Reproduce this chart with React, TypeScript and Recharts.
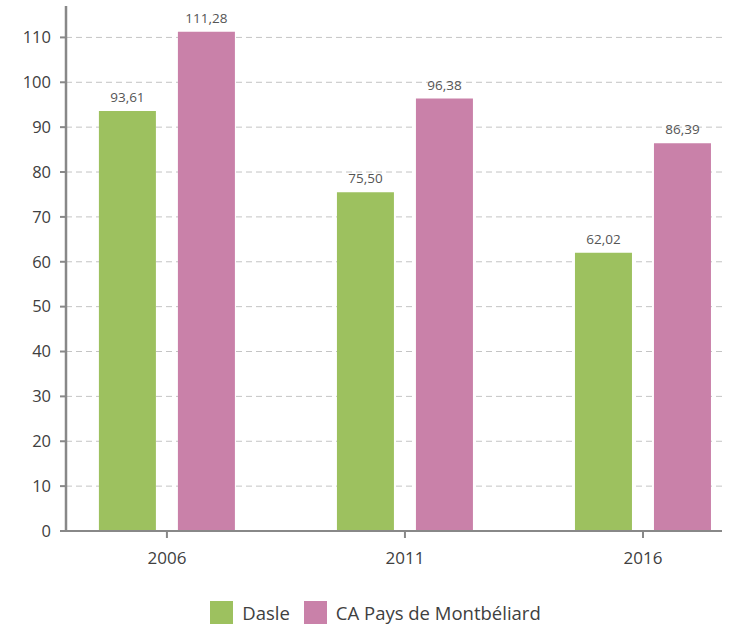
import { BarChart, Bar, XAxis, YAxis, CartesianGrid, Legend, LabelList } from "recharts";

const years = [2006, 2011, 2016];
const dasle = [93.61, 75.5, 62.02];
const montbeliard = [111.28, 96.38, 86.39];
const yTicks = [0, 10, 20, 30, 40, 50, 60, 70, 80, 90, 100, 110];

const SERIES = [
  { key: "dasle", name: "Dasle", color: "#9DC15F" },
  { key: "ca", name: "CA Pays de Montbéliard", color: "#C981A9" },
];

const data = years.map((y, i) => ({ year: y, dasle: dasle[i], ca: montbeliard[i] }));

const FONT = "'Open Sans', 'Noto Sans', sans-serif";
const fmt = (v: any) => Number(v).toFixed(2).replace(".", ",");

function LegendBox() {
  return (
    <div
      style={{
        display: "flex",
        justifyContent: "center",
        alignItems: "flex-end",
        height: 30,
        gap: 14,
        paddingLeft: 29,
      }}
    >
      {SERIES.map((s) => (
        <div key={s.key} style={{ display: "flex", alignItems: "center" }}>
          <span style={{ width: 23, height: 23, background: s.color, display: "inline-block", marginRight: 9 }} />
          <span style={{ fontSize: 18.5, color: "#404040", fontFamily: FONT, lineHeight: "23px" }}>{s.name}</span>
        </div>
      ))}
    </div>
  );
}

export default function App() {
  return (
    <div style={{ position: "absolute", left: 0, top: 0, background: "#fff" }}>
      <BarChart
        width={729}
        height={624}
        data={data}
        margin={{ top: 6, right: 7, left: 0, bottom: 0 }}
        barGap={22}
        style={{ fontFamily: FONT }}
      >
        <CartesianGrid stroke="#C4C4C4" strokeDasharray="6 4" vertical={false} horizontalValues={yTicks.slice(1)} />
        <XAxis
          type="number"
          dataKey="year"
          domain={[2003.88, 2017.66]}
          ticks={years}
          allowDataOverflow
          height={63}
          axisLine={{ stroke: "#888", strokeWidth: 2 }}
          tickLine={{ stroke: "#888", strokeWidth: 2 }}
          tickSize={7}
          tick={{ fontSize: 17, fill: "#404040" }}
          tickMargin={14}
        />
        <YAxis
          domain={[0, 117]}
          ticks={yTicks}
          allowDataOverflow
          width={66}
          axisLine={{ stroke: "#888", strokeWidth: 2.5 }}
          tickLine={{ stroke: "#888", strokeWidth: 2 }}
          tickSize={6}
          tick={{ fontSize: 16.5, fill: "#404040" }}
          tickMargin={9}
        />
        <Legend verticalAlign="bottom" height={30} content={() => <LegendBox />} />
        {SERIES.map((s) => (
          <Bar key={s.key} dataKey={s.key} name={s.name} fill={s.color} barSize={57} isAnimationActive={false}>
            <LabelList dataKey={s.key} position="top" offset={9} formatter={fmt} style={{ fontSize: 13.5, fill: "#555" }} />
          </Bar>
        ))}
      </BarChart>
    </div>
  );
}
